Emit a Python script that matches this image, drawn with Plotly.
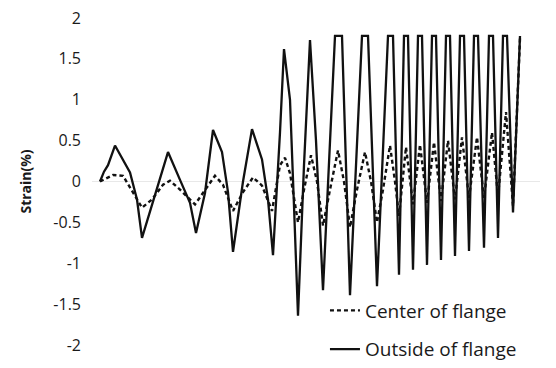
import plotly.graph_objects as go

# time step (arbitrary units) and strain (%)
t_outside = [0, 4, 8, 15, 30, 37, 42, 57, 68, 80, 90, 96, 105, 113, 122, 128, 133,
             143, 152, 162, 168, 173, 180, 184, 190, 194, 198, 204, 210, 216, 223,
             235, 242, 250, 262, 268, 277, 288, 293, 299,
             304, 308, 313, 318, 322, 327, 332, 336, 341, 346, 350, 355,
             360, 364, 369, 374, 378, 384, 389, 393, 398, 403, 407, 413, 420]
s_outside = [0.0, 0.12, 0.2, 0.44, 0.11, -0.22, -0.69, -0.10, 0.36, 0.02, -0.26, -0.63,
             -0.14, 0.63, 0.36, -0.13, -0.86, 0.0, 0.64, 0.27, -0.22, -0.90, 0.60,
             1.62, 1.00, -0.30, -1.64, 0.20, 1.73, 0.50, -1.33,
             1.78, 1.78, -1.39, 1.78, 1.78, -1.28, 1.78, 1.78, -1.14,
             1.78, 1.78, -1.08, 1.78, 1.78, -1.02, 1.78, 1.78, -0.96, 1.78, 1.78, -0.91,
             1.78, 1.78, -0.85, 1.78, 1.78, -0.81, 1.78, 1.78, -0.69, 1.78, 1.78, -0.38, 1.78]

t_center = [0, 13, 23, 35, 42, 52, 63, 70, 80, 95, 107, 115, 123, 133, 143, 153,
            162, 172, 180, 185, 190, 198, 204, 211, 217, 223, 230, 238, 244, 250,
            257, 265, 271, 277, 283, 290, 295, 299, 306, 313, 320, 327, 334, 341,
            348, 355, 362, 369, 377, 384, 392, 398, 406, 413, 420]
s_center = [0.0, 0.08, 0.07, -0.17, -0.32, -0.22, -0.04, 0.01, -0.10, -0.28, -0.07,
            0.07, -0.04, -0.36, -0.13, 0.05, -0.05, -0.36, 0.20, 0.29, 0.10, -0.50,
            -0.10, 0.32, 0.0, -0.54, -0.10, 0.38, 0.0, -0.56, -0.10, 0.36, 0.0,
            -0.50, -0.10, 0.44, 0.0, -0.42, 0.42, -0.28, 0.45, -0.26, 0.48, -0.24,
            0.50, -0.22, 0.54, -0.20, 0.54, -0.20, 0.60, -0.18, 0.85, -0.30, 1.75]

y_ticks = [2, 1.5, 1, 0.5, 0, -0.5, -1, -1.5, -2]
y_labels = ["2", "1.5", "1", "0.5", "0", "-0.5", "-1", "-1.5", "-2"]

fig = go.Figure()
fig.add_trace(go.Scatter(
    x=t_outside, y=s_outside, mode="lines", name="Outside of flange",
    line=dict(color="#111111", width=2.3), legendrank=2, legendgroup="b"))
fig.add_trace(go.Scatter(
    x=t_center, y=s_center, mode="lines", name="Center of flange",
    line=dict(color="#111111", width=2.4, dash="4px,3px"), legendrank=1, legendgroup="a"))

fig.update_layout(
    width=556, height=368,
    margin=dict(l=92, r=16, t=8, b=13, autoexpand=False),
    paper_bgcolor="white", plot_bgcolor="white",
    font=dict(family="Open Sans", color="#1a1a1a"),
    hovermode=False,
    xaxis=dict(range=[-8, 440], visible=False),
    yaxis=dict(range=[-2.122, 2.122], tickvals=y_ticks, ticktext=y_labels,
               showgrid=False, showline=False, ticks="",
               zeroline=True, zerolinecolor="#e8e8e8", zerolinewidth=1,
               tickfont=dict(size=16, color="#1a1a1a"), ticklabelstandoff=10,
               title=dict(text="<b>Strain(%)</b>", font=dict(size=14, color="#1a1a1a"),
                          standoff=18)),
    legend=dict(x=0.52, y=0.183, xanchor="left", yanchor="top",
                font=dict(size=19, color="#1a1a1a"), itemwidth=30,
                tracegroupgap=11, bgcolor="rgba(0,0,0,0)"),
)

fig.write_html("out.html")
